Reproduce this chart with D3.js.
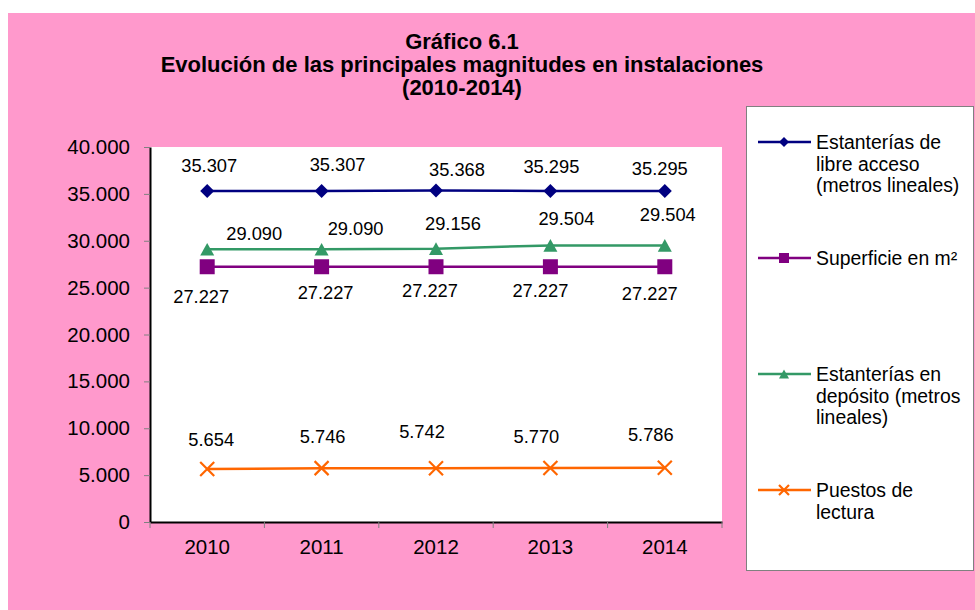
<!DOCTYPE html>
<html>
<head>
<meta charset="utf-8">
<script src="https://cdn.jsdelivr.net/npm/d3@7"></script>
<style>
  html, body { margin: 0; padding: 0; background: #fff; }
  svg { display: block; font-family: Arial, "Liberation Sans", sans-serif; }
</style>
</head>
<body>
<svg id="here"></svg>
<script>
// data
const years = ["2010", "2011", "2012", "2013", "2014"];
const libreAcceso = [35307, 35307, 35368, 35295, 35295];
const superficie = [27227, 27227, 27227, 27227, 27227];
const deposito = [29090, 29090, 29156, 29504, 29504];
const puestos = [5654, 5746, 5742, 5770, 5786];
const yTicks = [0, 5000, 10000, 15000, 20000, 25000, 30000, 35000, 40000];
const titleLines = ["Gráfico 6.1", "Evolución de las principales magnitudes en instalaciones", "(2010-2014)"];

// series styling + label nudges (the labels in the original were placed by hand)
const series = [
  {name: ["Estanterías de", "libre acceso", "(metros lineales)"], values: libreAcceso, color: "#000080", marker: "diamond",
   ldx: [2, 16, 21, 1, -5], ldy: [-19, -20, -14, -18, -16]},
  {name: ["Superficie en m²"], values: superficie, color: "#800080", marker: "square",
   ldx: [-6, 4, -6, -10, -15], ldy: [36, 32, 30, 30, 33]},
  {name: ["Estanterías en", "depósito (metros", "lineales)"], values: deposito, color: "#339966", marker: "triangle",
   ldx: [47, 34, 17, 16, 3], ldy: [-9, -14, -19, -20, -24]},
  {name: ["Puestos de", "lectura"], values: puestos, color: "#FF6600", marker: "x",
   ldx: [4, 1, -14, -14, -14], ldy: [-23, -25, -30, -25, -27]}
];

const width = 975, height = 610;
const margin = {top: 147, right: 253, bottom: 88, left: 150};

const svg = d3.select("#here").attr("width", width).attr("height", height);

// pink background
svg.append("rect").attr("x", 8).attr("y", 13).attr("width", width - 8).attr("height", height - 13).attr("fill", "#FF99CC");

// title
svg.append("g").selectAll("text").data(titleLines).join("text")
  .attr("x", 462).attr("y", (d, i) => 49 + i * 23)
  .attr("text-anchor", "middle").attr("font-size", 22).attr("font-weight", "bold").attr("fill", "#000")
  .text(d => d);

const x = d3.scaleBand().domain(years).range([margin.left, width - margin.right]).padding(0);
const y = d3.scaleLinear().domain([0, 40000]).range([height - margin.bottom, margin.top]);
const cx = d => x(d) + x.bandwidth() / 2;

// plot area
svg.append("rect").attr("x", margin.left).attr("y", margin.top)
  .attr("width", width - margin.right - margin.left).attr("height", height - margin.bottom - margin.top)
  .attr("fill", "#fff");

const loc = d3.formatLocale({decimal: ",", thousands: ".", grouping: [3], currency: ["", ""]});
const fmt = loc.format(",d");

// y axis
const yAxis = svg.append("g").attr("transform", `translate(${margin.left},0)`)
  .call(d3.axisLeft(y).tickValues(yTicks).tickFormat(fmt).tickSize(6).tickPadding(14).tickSizeOuter(0));
yAxis.select(".domain").attr("stroke", "#000").attr("stroke-width", 2);
yAxis.selectAll(".tick line").attr("stroke", "#808080");
yAxis.selectAll(".tick text").attr("font-size", 20.5).attr("fill", "#000").attr("font-family", "Arial, 'Liberation Sans', sans-serif");

// x axis
const xAxis = svg.append("g").attr("transform", `translate(0,${height - margin.bottom})`)
  .call(d3.axisBottom(x).tickSize(0).tickPadding(17).tickSizeOuter(0));
xAxis.select(".domain").attr("stroke", "#000").attr("stroke-width", 2);
xAxis.selectAll(".tick text").attr("font-size", 20.5).attr("fill", "#000").attr("font-family", "Arial, 'Liberation Sans', sans-serif");
// tick marks between categories
const bounds = years.map(d => x(d)).concat([x.range()[1]]);
xAxis.selectAll(".bnd").data(bounds).join("line").attr("class", "bnd")
  .attr("x1", d => d).attr("x2", d => d).attr("y1", 0).attr("y2", 6).attr("stroke", "#808080");

function marker(g, type, color, s) {
  if (type === "diamond") {
    g.append("path").attr("d", `M0,${-s / 2}L${s / 2},0L0,${s / 2}L${-s / 2},0Z`).attr("fill", color);
  } else if (type === "square") {
    g.append("rect").attr("x", -s / 2).attr("y", -s / 2).attr("width", s).attr("height", s).attr("fill", color);
  } else if (type === "triangle") {
    g.append("path").attr("d", `M0,${-s * 0.45}L${s / 2},${s * 0.45}L${-s / 2},${s * 0.45}Z`).attr("fill", color);
  } else {
    const h = s / 2;
    g.append("path").attr("d", `M${-h},${-h}L${h},${h}M${-h},${h}L${h},${-h}`)
      .attr("stroke", color).attr("stroke-width", 2.2).attr("fill", "none");
  }
}

const line = d3.line().x((d, i) => cx(years[i])).y(d => y(d));

for (const s of series) {
  const g = svg.append("g");
  g.append("path").datum(s.values).attr("fill", "none").attr("stroke", s.color)
    .attr("stroke-width", 2.5).attr("d", line);
  s.values.forEach((v, i) => {
    const m = g.append("g").attr("transform", `translate(${cx(years[i])},${y(v)})`);
    marker(m, s.marker, s.color, s.marker === "square" ? 15 : 14);
  });
  g.selectAll("text").data(s.values).join("text")
    .attr("x", (d, i) => cx(years[i]) + s.ldx[i])
    .attr("y", (d, i) => y(d) + s.ldy[i])
    .attr("text-anchor", "middle").attr("font-size", 18.3).attr("fill", "#000")
    .text(d => fmt(d));
}

// legend
const lg = svg.append("g");
lg.append("rect").attr("x", 746.5).attr("y", 106.5).attr("width", 227).attr("height", 464)
  .attr("fill", "#fff").attr("stroke", "#808080").attr("stroke-width", 1);
series.forEach((s, i) => {
  const ly = 142 + i * 116;
  const e = lg.append("g").attr("transform", `translate(0,${ly})`);
  e.append("line").attr("x1", 758).attr("x2", 811).attr("y1", 0).attr("y2", 0)
    .attr("stroke", s.color).attr("stroke-width", 2.5);
  const m = e.append("g").attr("transform", "translate(784,0)");
  marker(m, s.marker, s.color, 10);
  e.selectAll("text").data(s.name).join("text")
    .attr("x", 816).attr("y", (d, j) => 7 + j * 21.7)
    .attr("font-size", 19.4).attr("fill", "#000").text(d => d);
});
</script>
</body>
</html>
